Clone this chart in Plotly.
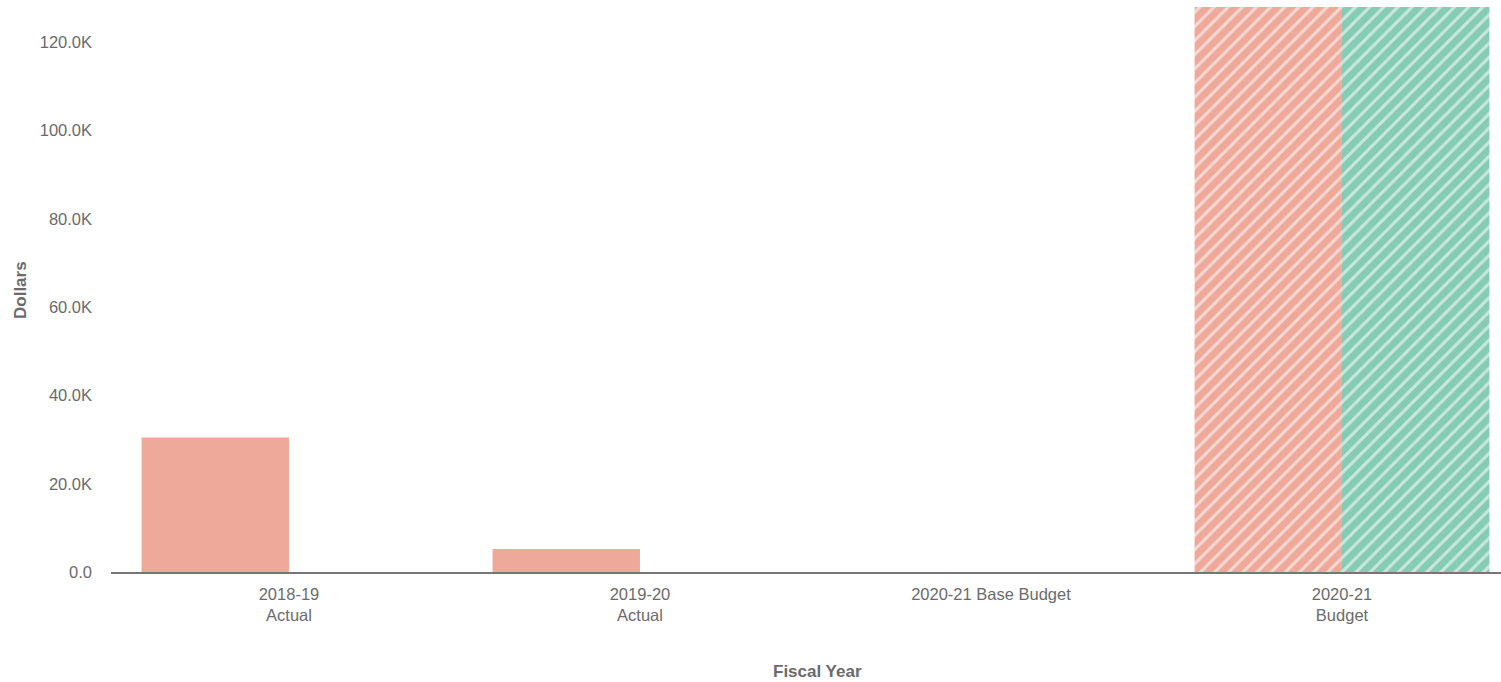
import plotly.graph_objects as go

# Fiscal-year categories (two-line tick labels)
categories = ["2018-19<br>Actual", "2019-20<br>Actual", "2020-21 Base Budget", "2020-21<br>Budget"]

# Series values in dollars
expenditures = [30450, 5200, None, 128000]
revenues = [None, None, None, 128000]

# Y axis ticks
y_tickvals = [0, 20000, 40000, 60000, 80000, 100000, 120000]
y_ticktext = ["0.0", "20.0K", "40.0K", "60.0K", "80.0K", "100.0K", "120.0K"]

salmon = "#EFA99B"
green = "#86CCB4"
text_grey = "#6b6b6b"
font_family = "Liberation Sans, Arial, sans-serif"

# Budget-year bars are hatched, actuals are solid
salmon_shapes = ["", "", "", "/"]
green_shapes = ["", "", "", "/"]

fig = go.Figure()
fig.add_trace(go.Bar(
    x=categories, y=expenditures, name="Expenditures",
    marker=dict(color=salmon, line=dict(width=0),
                pattern=dict(shape=salmon_shapes, fgcolor="white", fgopacity=0.55,
                             size=10, solidity=0.3, fillmode="overlay")),
    hoverinfo="skip",
))
fig.add_trace(go.Bar(
    x=categories, y=revenues, name="Revenues",
    marker=dict(color=green, line=dict(width=0),
                pattern=dict(shape=green_shapes, fgcolor="white", fgopacity=0.55,
                             size=10, solidity=0.3, fillmode="overlay")),
    hoverinfo="skip",
))

fig.update_layout(
    width=1501, height=682,
    margin=dict(l=111, r=0, t=7, b=110),
    paper_bgcolor="white", plot_bgcolor="white",
    barmode="group", bargap=0.16, bargroupgap=0,
    showlegend=False,
    font=dict(family=font_family, color=text_grey, size=16),
    xaxis=dict(
        type="category", range=[-0.507, 3.453],
        showline=True, linecolor="#767676", linewidth=2,
        showgrid=False, zeroline=False, ticks="",
        tickfont=dict(size=16.5, color=text_grey),
        ticklabelstandoff=6,
    ),
    yaxis=dict(
        range=[0, 128000],
        showline=False, showgrid=False, zeroline=False, ticks="",
        tickvals=y_tickvals, ticktext=y_ticktext,
        tickfont=dict(size=16.5, color=text_grey),
        ticklabelstandoff=18,
    ),
    annotations=[
        dict(text="<b>Fiscal Year</b>", xref="paper", yref="paper",
             x=(817 - 111) / 1390, y=-(671 - 572) / 565,
             xanchor="center", yanchor="middle", showarrow=False,
             font=dict(size=17, color=text_grey)),
        dict(text="<b>Dollars</b>", xref="paper", yref="paper",
             x=-(111 - 20) / 1390, y=(572 - 290) / 565, textangle=-90,
             xanchor="center", yanchor="middle", showarrow=False,
             font=dict(size=17, color=text_grey)),
    ],
)

fig.write_html("out.html")
